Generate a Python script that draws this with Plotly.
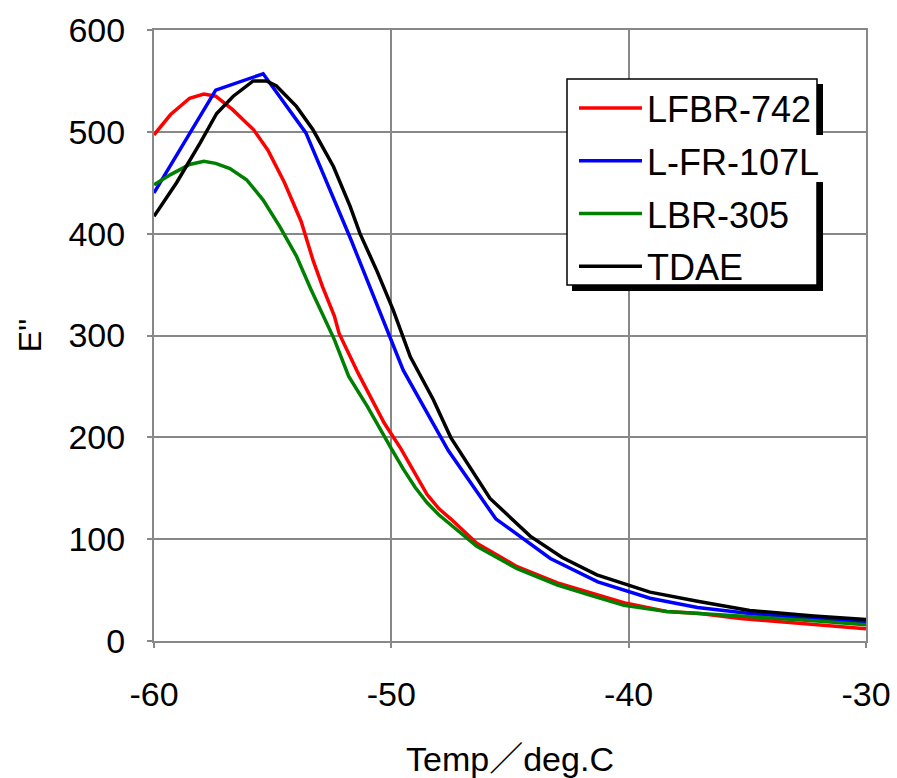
import plotly.graph_objects as go

# ---- data ----
temp_lfbr = [-60, -59.3, -58.5, -57.9, -57.4, -56.7, -55.8, -55.2, -54.5, -53.8, -53.3, -52.9,
             -52.4, -52.2, -51.4, -50.3, -49.6, -49.0, -48.5, -48.0, -47.5, -46.4, -44.7, -43.0,
             -41.3, -40.1, -38.4, -37.0, -35.3, -33.2, -31.1, -30]
e_lfbr = [497, 517, 533, 537, 535, 522, 502, 482, 450, 412, 374, 348,
          319, 302, 263, 214, 189, 164, 144, 130, 120, 96, 73, 57,
          45, 37, 29, 27, 22, 18, 14, 12]

temp_lfr = [-60, -57.4, -55.4, -53.6, -51.7, -49.5, -47.6, -45.6, -43.3, -41.3, -39.1, -37.1,
            -34.9, -32.2, -30]
e_lfr = [440, 541, 557, 499, 394, 266, 187, 120, 81, 58, 42, 33,
         27, 22, 19]

temp_lbr = [-60, -59.3, -58.5, -57.9, -57.4, -56.8, -56.1, -55.4, -54.7, -54.0, -53.4, -52.7,
            -52.4, -51.8, -51.0, -50.0, -49.5, -49.0, -48.5, -48.0, -47.5, -46.4, -44.7, -43.0,
            -41.5, -40.2, -38.4, -37.0, -34.9, -32.2, -30]
e_lbr = [448, 458, 468, 471, 469, 464, 453, 433, 407, 378, 346, 312,
         296, 260, 230, 189, 169, 151, 136, 124, 114, 93, 71, 55,
         44, 35, 29, 27, 24, 20, 16]

temp_tdae = [-60, -59.05, -58.06, -57.36, -56.66, -55.82, -55.26, -54.84, -54.0, -53.3, -52.44,
             -51.74, -51.32, -50.6, -49.92, -49.2, -48.23, -47.5, -45.84, -44.15, -42.8, -41.34,
             -39.1, -37.1, -34.9, -32.2, -30]
e_tdae = [417, 450, 489, 518, 535, 550, 550, 545, 525, 502, 466,
          427, 400, 363, 325, 279, 237, 200, 140, 103, 82, 65,
          48, 39, 30, 24.5, 21]

series_names = ["LFBR-742", "L-FR-107L", "LBR-305", "TDAE"]
series_temps = [temp_lfbr, temp_lfr, temp_lbr, temp_tdae]
series_values = [e_lfbr, e_lfr, e_lbr, e_tdae]
series_colors = ["#FF0000", "#0000FF", "#008000", "#000000"]

x_ticks = [-60, -50, -40, -30]
y_ticks = [0, 100, 200, 300, 400, 500, 600]

FONT = "Liberation Sans, Arial, Noto Sans CJK JP, sans-serif"
GRID = "#888888"

fig = go.Figure()
for name, t, v, c in zip(series_names, series_temps, series_values, series_colors):
    fig.add_trace(go.Scatter(x=t, y=v, mode="lines", name=name, legendgroup=name,
                             line=dict(color=c, width=3.5)))

# plot area in pixels: left 154, right 866, top 30, bottom 641
W, H = 897, 778
L, R, T, B = 154, 866, 30, 641
def px(xp):
    return (xp - L) / (R - L)
def py(yp):
    return (B - yp) / (B - T)

shapes = [
    # legend shadow
    dict(type="rect", xref="paper", yref="paper", x0=px(572), x1=px(823), y0=py(291), y1=py(84),
         fillcolor="black", line=dict(width=0), layer="above"),
    # legend box
    dict(type="rect", xref="paper", yref="paper", x0=px(567), x1=px(817), y0=py(285), y1=py(79),
         fillcolor="white", line=dict(color="black", width=1.5), layer="above"),
    # white patch where the long label overflows
    dict(type="rect", xref="paper", yref="paper", x0=px(815), x1=px(833), y0=py(182), y1=py(135),
         fillcolor="white", line=dict(width=0), layer="above"),
]

fig.update_layout(
    width=W, height=H,
    margin=dict(l=L, r=W - R, t=T, b=H - B, pad=0),
    paper_bgcolor="white", plot_bgcolor="white",
    font=dict(family=FONT, size=34, color="black"),
    showlegend=True,
    legend=dict(x=px(574), y=py(78), xanchor="left", yanchor="top",
                bgcolor="rgba(0,0,0,0)", borderwidth=0,
                font=dict(size=36, family=FONT, color="black"),
                itemwidth=63, traceorder="grouped", tracegroupgap=3),
    shapes=shapes,
)

fig.update_xaxes(range=[-60, -30], tickvals=x_ticks, ticktext=[str(v) for v in x_ticks],
                 automargin=False,
                 showgrid=True, gridcolor=GRID, gridwidth=2,
                 showline=True, linecolor=GRID, linewidth=2, mirror=True,
                 ticks="outside", ticklen=5, tickcolor=GRID, tickwidth=2,
                 ticklabelstandoff=17, zeroline=False,
                 tickfont=dict(size=34),
                 title=dict(text="Temp／deg.C", font=dict(size=34), standoff=40))
fig.update_yaxes(range=[0, 600], tickvals=y_ticks, ticktext=[str(v) for v in y_ticks],
                 automargin=False,
                 showgrid=True, gridcolor=GRID, gridwidth=2,
                 showline=True, linecolor=GRID, linewidth=2, mirror=True,
                 ticks="outside", ticklen=5, tickcolor=GRID, tickwidth=2,
                 ticklabelstandoff=15, zeroline=False,
                 tickfont=dict(size=34),
                 title=dict(text="E''", font=dict(size=32), standoff=17))

fig.write_html("out.html")
